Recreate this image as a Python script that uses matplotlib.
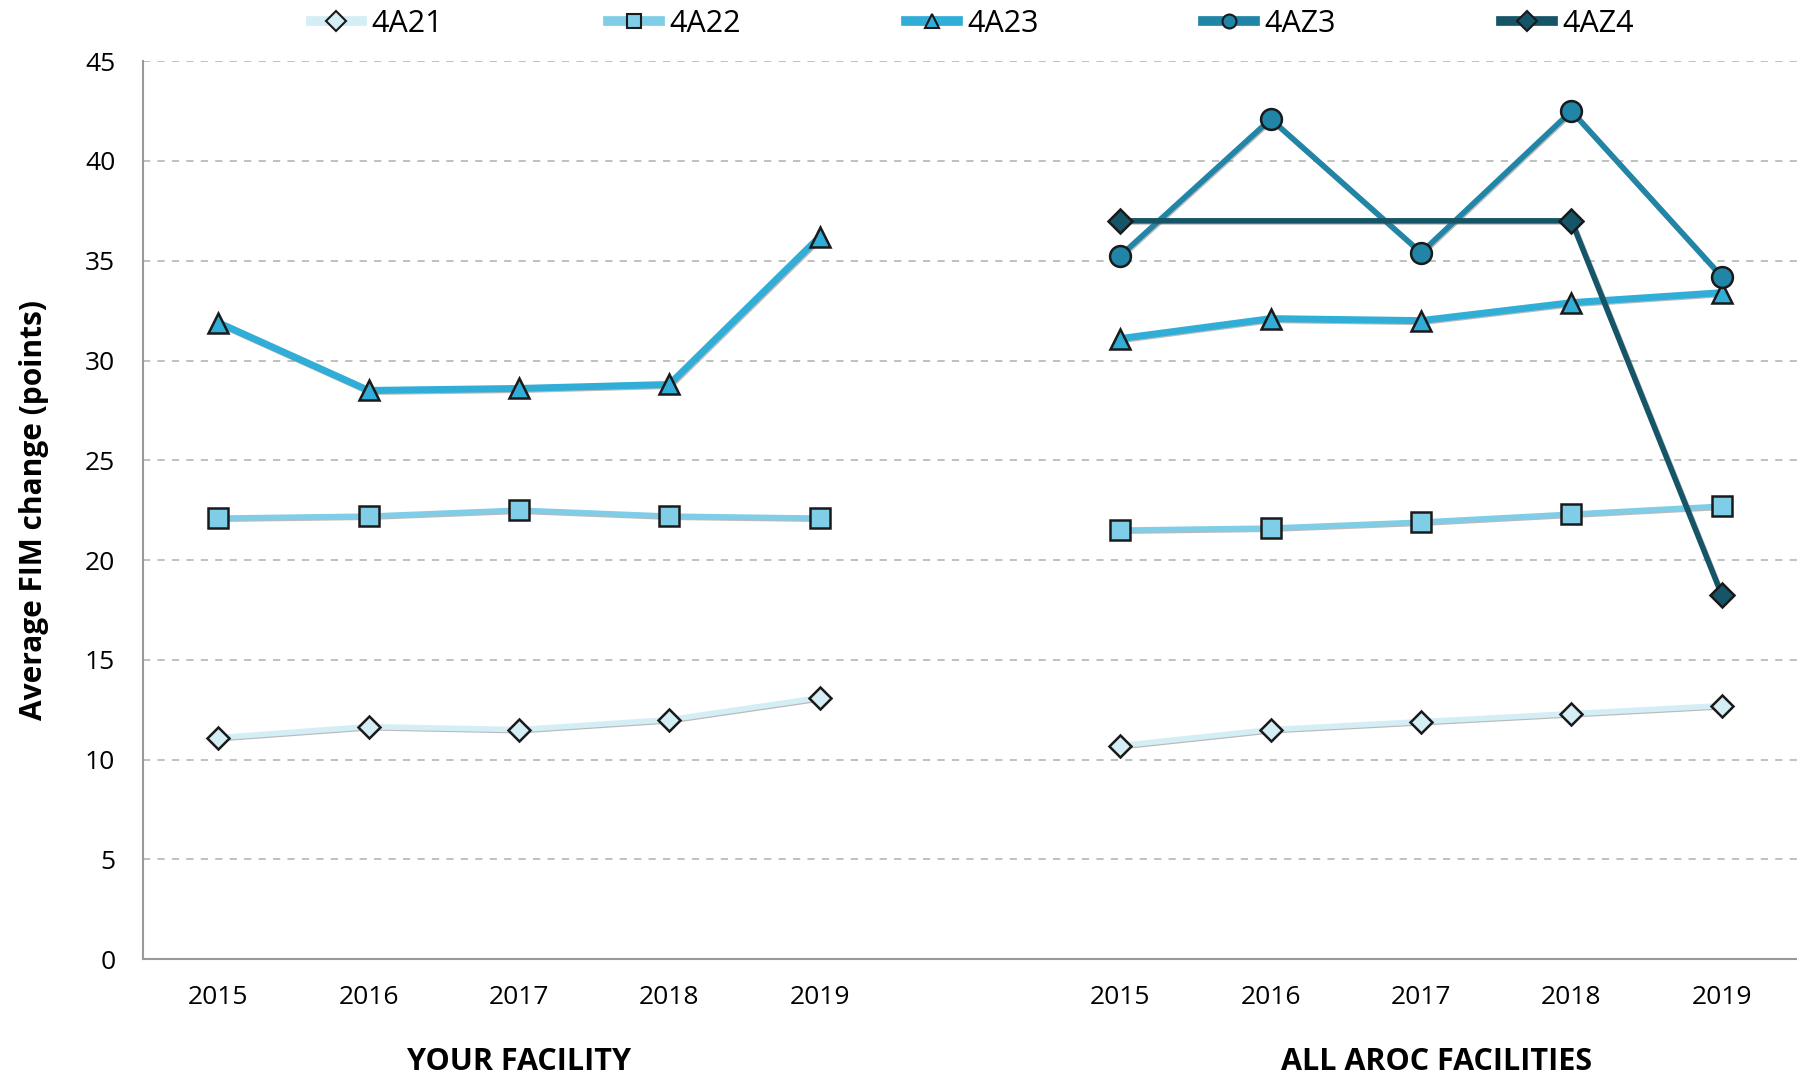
import numpy as np
import matplotlib.pyplot as plt
import matplotlib.patheffects as pe

plt.rcParams['font.family'] = ['Open Sans', 'DejaVu Sans']

years = ['2015', '2016', '2017', '2018', '2019']
groups = ['YOUR FACILITY', 'ALL AROC FACILITIES']
names = ['4A21', '4A22', '4A23', '4AZ3', '4AZ4']
nan = np.nan

# left block: your facility, right block: all AROC facilities
a21 = [11.1, 11.65, 11.5, 12.0, 13.1] + [10.7, 11.5, 11.9, 12.3, 12.7]
a22 = [22.1, 22.2, 22.5, 22.2, 22.1] + [21.5, 21.6, 21.9, 22.3, 22.7]
a23 = [31.9, 28.5, 28.6, 28.8, 36.2] + [31.1, 32.1, 32.0, 32.9, 33.4]
az3 = [nan, nan, nan, nan, nan] + [35.25, 42.1, 35.4, 42.5, 34.2]
az4 = [nan, nan, nan, nan, nan] + [37.0, nan, nan, 37.0, 18.25]
series = [a21, a22, a23, az3, az4]

colors = ['#d4eef6', '#7fcde6', '#31aed7', '#2085a6', '#165468']
markers = ['D', 's', '^', 'o', 'D']
msizes = [11, 14, 15, 15, 12]
lwidths = [4, 4, 5, 4, 4]

fig = plt.figure(figsize=(17.97, 10.74), dpi=100)
ax = fig.add_axes([0.0796, 0.107, 0.9204, 0.836])

xpos = [0, 1, 2, 3, 4, 6, 7, 8, 9, 10]
shadow = [pe.SimpleLineShadow(offset=(0.8, -0.8), shadow_color='#666666', alpha=0.45), pe.Normal()]

handles = []
for vals, c, m, ms, lw, nm in zip(series, colors, markers, msizes, lwidths, names):
    vals = np.array(vals)
    for blk in (slice(0, 5), slice(5, 10)):
        x = np.array(xpos[blk])
        y = vals[blk]
        ok = ~np.isnan(y)
        if not ok.any():
            continue
        ax.plot(x[ok], y[ok], color=c, lw=lw, zorder=2, path_effects=shadow,
                solid_capstyle='round')
        ax.plot(x[ok], y[ok], ls='none', marker=m, ms=ms, mfc=c, mec='#1a1a1a',
                mew=1.8, zorder=3)
    h, = ax.plot([], [], color=c, lw=7, marker=m, ms=10, mfc=c, mec='#1a1a1a',
                 mew=1.5, label=nm)
    handles.append(h)

ax.set_xlim(-0.5, 10.5)
ax.set_ylim(0, 45)
ax.set_yticks(np.arange(0, 46, 5))
ax.set_xticks(xpos)
ax.set_xticklabels(years + years)
ax.tick_params(axis='both', length=0, labelsize=19)
ax.tick_params(axis='x', pad=19)
ax.tick_params(axis='y', pad=20)
for s in ['top', 'right']:
    ax.spines[s].set_visible(False)
for s in ['left', 'bottom']:
    ax.spines[s].set_color('#999999')
    ax.spines[s].set_linewidth(1.5)
ax.yaxis.grid(True, ls=(0, (4, 4)), color='#bbbbbb', lw=1.3)
ax.set_axisbelow(True)

ax.set_ylabel('Average FIM change (points)', fontsize=21.5, fontweight='bold', labelpad=26)

for cx, g in zip([2, 8], groups):
    ax.text(cx + (0.1 if cx == 8 else 0), -0.115, g, transform=ax.get_xaxis_transform(),
            ha='center', va='center', fontsize=22, fontweight='bold')

fig.legend(handles=handles, loc='center', bbox_to_anchor=(0.541, 0.978), ncol=5,
           frameon=False, fontsize=22, handlelength=1.7, columnspacing=5.4,
           handletextpad=0.3)

fig.savefig('out.png', dpi=100)
